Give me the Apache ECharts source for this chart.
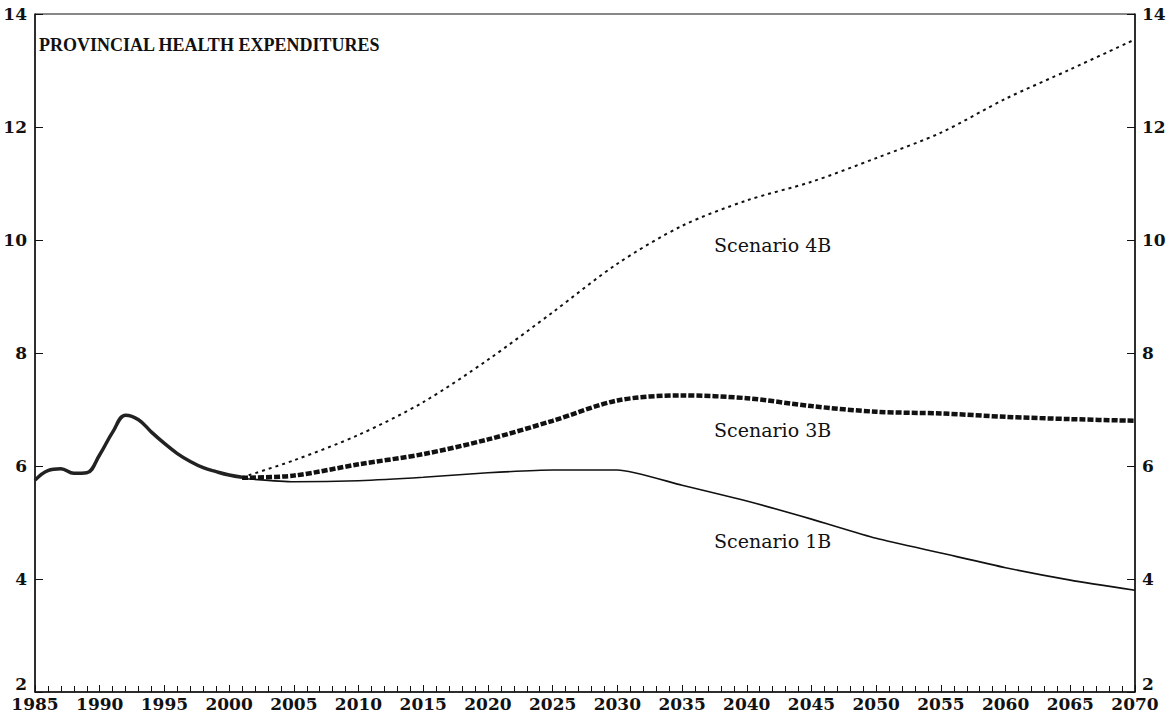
<!DOCTYPE html>
<html>
<head>
<meta charset="utf-8">
<script src="https://cdn.jsdelivr.net/npm/echarts@6/dist/echarts.min.js"></script>
<style>
  html, body { margin: 0; padding: 0; background: #fff; }
  #chart { width: 1176px; height: 720px; }
</style>
</head>
<body>
<div id="chart"></div>
<script>
// historical part, common to all scenarios
var histYears = [1985, 1986, 1987, 1988, 1989, 1990, 1991, 1992, 1993, 1994, 1995, 1996, 1997, 1998, 1999, 2000, 2001];
var histValues = [5.75, 5.92, 5.95, 5.87, 5.88, 6.2, 6.6, 6.9, 6.82, 6.6, 6.4, 6.22, 6.08, 5.97, 5.9, 5.84, 5.8];

// projections
var projYears = [2001, 2005, 2010, 2015, 2020, 2025, 2030, 2035, 2040, 2045, 2050, 2055, 2060, 2065, 2070];
var scenario4B = [5.8, 6.1, 6.55, 7.13, 7.88, 8.72, 9.58, 10.25, 10.7, 11.03, 11.45, 11.9, 12.5, 13.02, 13.55];
var scenario3B = [5.79, 5.83, 6.03, 6.21, 6.47, 6.8, 7.16, 7.25, 7.2, 7.06, 6.96, 6.93, 6.87, 6.83, 6.8];
var scenario1B = [5.78, 5.72, 5.74, 5.8, 5.88, 5.93, 5.93, 5.66, 5.38, 5.06, 4.72, 4.46, 4.2, 3.98, 3.8];

function pairs(xs, ys) {
  var res = [];
  for (var i = 0; i < xs.length; i++) {
    res.push([xs[i], ys[i]]);
  }
  return res;
}

var chart = echarts.init(document.getElementById("chart"), null, { renderer: "svg" });

function scenarioLabel(text, coord) {
  return {
    symbol: "circle",
    symbolSize: 0,
    label: {
      show: true,
      position: "inside",
      formatter: text,
      color: "#111",
      fontFamily: "DejaVu Serif",
      fontSize: 19
    },
    data: [{ coord: coord }]
  };
}

var axisFont = {
  color: "#111",
  fontFamily: "DejaVu Serif",
  fontWeight: "bold",
  fontSize: 17
};

function plain(v) {
  return String(v);
}

var option = {
  animation: false,
  backgroundColor: "#fff",
  title: {
    text: "PROVINCIAL HEALTH EXPENDITURES",
    left: 39,
    top: 36,
    padding: 0,
    textStyle: {
      color: "#111",
      fontFamily: "Liberation Serif",
      fontWeight: "bold",
      fontSize: 18
    }
  },
  grid: {
    left: 35,
    right: 41,
    top: 14,
    bottom: 28,
    show: true,
    borderColor: "#111",
    borderWidth: 1,
    backgroundColor: "transparent"
  },
  xAxis: {
    type: "value",
    min: 1985,
    max: 2070,
    interval: 5,
    splitLine: { show: false },
    axisLine: { lineStyle: { color: "#111", width: 1.5 } },
    axisTick: { inside: true, length: 7, lineStyle: { color: "#111" } },
    minorTick: { show: true, splitNumber: 5, length: 6, lineStyle: { color: "#111" } },
    axisLabel: Object.assign({ margin: 3, formatter: plain }, axisFont)
  },
  yAxis: [
    {
      type: "value",
      position: "left",
      min: 2,
      max: 14,
      interval: 2,
      splitLine: { show: false },
      axisLine: { show: true, lineStyle: { color: "#111", width: 1.5 } },
      axisTick: { show: true, inside: true, length: 8, lineStyle: { color: "#111" } },
      axisLabel: Object.assign({ margin: 8, formatter: plain, verticalAlignMinLabel: "bottom" }, axisFont)
    },
    {
      type: "value",
      position: "right",
      min: 2,
      max: 14,
      interval: 2,
      splitLine: { show: false },
      axisLine: { show: true, lineStyle: { color: "#111", width: 1.5 } },
      axisTick: { show: true, inside: true, length: 8, lineStyle: { color: "#111" } },
      axisLabel: Object.assign({ margin: 7, formatter: plain, verticalAlignMinLabel: "bottom" }, axisFont)
    }
  ],
  series: [
    {
      name: "Scenario 4B",
      type: "line",
      data: pairs(projYears, scenario4B),
      smooth: 0.3,
      showSymbol: false,
      lineStyle: { color: "#111", width: 2, type: [3, 4] },
      markPoint: scenarioLabel("Scenario 4B", [2042, 9.91])
    },
    {
      name: "Scenario 3B",
      type: "line",
      data: pairs(projYears, scenario3B),
      smooth: 0.3,
      showSymbol: false,
      lineStyle: { color: "#111", width: 4.5, type: [6, 2] },
      markPoint: scenarioLabel("Scenario 3B", [2042, 6.64])
    },
    {
      name: "Scenario 1B",
      type: "line",
      data: pairs(projYears, scenario1B),
      smooth: 0.2,
      showSymbol: false,
      lineStyle: { color: "#111", width: 1.6 },
      markPoint: scenarioLabel("Scenario 1B", [2042, 4.67])
    },
    {
      name: "History",
      type: "line",
      data: pairs(histYears, histValues),
      smooth: 0.4,
      showSymbol: false,
      lineStyle: { color: "#222", width: 3.5 }
    }
  ]
};

chart.setOption(option);
</script>
</body>
</html>
